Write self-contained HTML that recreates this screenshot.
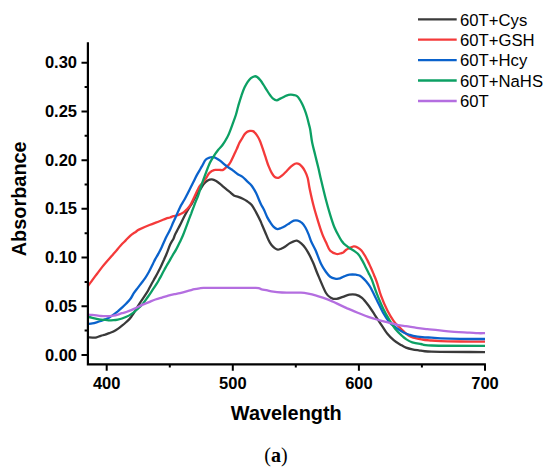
<!DOCTYPE html>
<html><head><meta charset="utf-8"><style>
html,body{margin:0;padding:0;background:#fff;}
body{width:550px;height:472px;overflow:hidden;position:relative;}
svg{position:absolute;left:0;top:0;}
.tk{font-family:"Liberation Sans",sans-serif;font-weight:bold;font-size:16.5px;fill:#000;}
.ax{font-family:"Liberation Sans",sans-serif;font-weight:bold;font-size:19.9px;fill:#000;}
.lg{font-family:"Liberation Sans",sans-serif;font-size:16.7px;fill:#000;}
.cap{font-family:"Liberation Serif",serif;font-size:20px;fill:#000;}
</style></head><body>
<svg width="550" height="472" viewBox="0 0 550 472">
<path d="M88.0,337.4 C88.7,337.4 91.0,337.6 92.4,337.6 C93.8,337.6 95.2,337.7 96.6,337.4 C98.0,337.1 99.4,336.2 100.8,335.8 C102.2,335.4 103.7,335.1 105.1,334.7 C106.5,334.2 107.9,333.6 109.3,333.1 C110.7,332.6 112.1,332.2 113.5,331.5 C114.9,330.8 116.4,329.9 117.8,328.9 C119.2,327.9 120.6,326.8 122.0,325.7 C123.4,324.6 124.9,323.3 126.3,322.0 C127.7,320.7 129.0,319.8 130.5,317.8 C132.0,315.9 134.1,312.5 135.5,310.3 C136.9,308.1 137.7,306.5 138.9,304.6 C140.1,302.7 141.4,300.8 142.7,298.9 C144.0,297.0 145.4,294.9 146.5,293.2 C147.6,291.5 148.2,290.3 149.0,288.8 C149.8,287.3 150.6,285.7 151.4,284.2 C152.2,282.7 153.1,281.3 153.9,279.8 C154.7,278.3 155.6,276.9 156.4,275.3 C157.2,273.7 158.2,272.0 159.0,270.3 C159.8,268.6 160.7,267.0 161.5,265.2 C162.3,263.4 163.2,261.4 164.1,259.5 C164.9,257.6 165.6,256.3 166.6,253.8 C167.6,251.3 169.1,246.9 170.3,244.3 C171.5,241.7 172.8,240.1 173.6,238.4 C174.4,236.8 174.3,236.1 175.1,234.4 C175.9,232.7 177.4,230.3 178.5,228.1 C179.6,225.9 180.8,223.6 181.9,221.3 C183.0,219.0 184.2,216.6 185.3,214.5 C186.4,212.4 187.5,210.4 188.6,208.6 C189.7,206.8 190.9,205.5 192.0,203.5 C193.1,201.5 194.4,198.6 195.4,196.7 C196.4,194.8 197.2,193.2 198.0,192.0 C198.8,190.8 199.4,190.8 200.3,189.5 C201.2,188.2 202.3,185.7 203.5,184.2 C204.7,182.7 206.3,181.3 207.7,180.5 C209.1,179.7 210.5,179.3 211.9,179.4 C213.3,179.5 214.8,180.2 216.2,181.0 C217.6,181.8 219.0,183.0 220.4,184.2 C221.8,185.3 223.2,186.7 224.7,187.9 C226.2,189.2 227.9,190.4 229.4,191.7 C230.9,192.9 232.4,194.5 233.9,195.4 C235.4,196.3 236.8,196.3 238.3,196.9 C239.8,197.5 241.3,198.1 242.8,198.8 C244.3,199.5 245.7,200.3 247.2,201.3 C248.7,202.3 250.2,203.2 251.7,205.0 C253.2,206.8 254.6,209.7 256.1,212.4 C257.6,215.1 259.6,219.2 260.6,221.3 C261.6,223.4 261.2,223.0 262.0,224.8 C262.8,226.6 264.1,229.7 265.2,232.2 C266.3,234.7 267.3,237.6 268.4,239.7 C269.4,241.8 270.4,243.6 271.5,245.0 C272.6,246.4 273.6,247.3 274.7,248.1 C275.8,248.9 276.8,249.6 277.9,249.7 C279.0,249.8 279.9,249.2 281.1,248.7 C282.3,248.2 283.9,247.4 285.3,246.5 C286.7,245.6 288.1,244.3 289.5,243.4 C290.9,242.5 292.6,241.8 293.8,241.3 C295.1,240.9 295.8,240.3 297.0,240.7 C298.2,241.0 299.8,242.2 301.2,243.4 C302.6,244.6 304.2,246.4 305.4,248.1 C306.6,249.8 307.6,251.6 308.6,253.4 C309.6,255.2 310.5,256.9 311.3,258.7 C312.1,260.5 312.6,261.3 313.7,264.0 C314.8,266.7 315.9,270.2 318.0,275.0 C320.1,279.8 323.8,289.2 326.0,293.0 C328.2,296.8 329.5,296.9 331.3,297.9 C333.1,298.9 334.7,299.1 336.6,298.9 C338.5,298.7 340.8,297.5 342.9,296.8 C345.0,296.1 347.2,295.1 349.3,294.7 C351.4,294.3 353.5,294.2 355.6,294.7 C357.7,295.2 359.9,296.1 362.0,297.9 C364.1,299.7 366.2,302.5 368.3,305.3 C370.4,308.1 372.6,311.6 374.7,314.8 C376.8,318.0 378.9,321.1 381.0,324.3 C383.1,327.5 385.3,331.2 387.4,333.8 C389.5,336.4 391.6,338.4 393.7,340.2 C395.8,342.0 398.1,343.2 400.1,344.4 C402.2,345.6 404.0,346.8 406.0,347.6 C408.0,348.4 410.2,348.9 412.3,349.3 C414.4,349.8 415.5,349.9 418.7,350.3 C421.9,350.7 420.3,351.4 431.4,351.7 C442.4,352.0 476.1,352.0 485.0,352.1" fill="none" stroke="#3a3a3a" stroke-width="2.3" stroke-linejoin="round" stroke-linecap="butt"/>
<path d="M88.0,286.0 C88.7,285.0 90.8,282.2 92.3,280.1 C93.8,278.1 95.5,275.8 97.1,273.7 C98.7,271.6 100.3,269.4 101.9,267.4 C103.5,265.4 105.0,263.6 106.6,261.8 C108.2,260.0 109.8,258.2 111.4,256.3 C113.0,254.5 114.6,252.5 116.2,250.7 C117.8,248.8 119.3,246.9 120.9,245.2 C122.5,243.5 124.1,242.0 125.7,240.4 C127.3,238.8 128.7,237.1 130.4,235.6 C132.1,234.1 134.6,232.7 136.0,231.7 C137.4,230.7 136.7,230.7 138.9,229.6 C141.2,228.5 146.0,226.4 149.5,225.0 C153.0,223.6 157.2,222.1 160.0,221.0 C162.8,219.9 164.3,219.2 166.0,218.6 C167.7,218.0 168.8,217.9 170.0,217.5 C171.2,217.1 172.3,216.5 173.4,216.2 C174.5,215.9 175.7,215.8 176.8,215.5 C177.9,215.2 179.1,214.6 180.2,214.1 C181.3,213.6 182.5,213.2 183.6,212.4 C184.7,211.6 185.8,210.6 186.9,209.4 C188.0,208.2 189.3,206.8 190.3,205.2 C191.3,203.6 192.0,201.8 192.9,199.9 C193.8,198.0 195.0,195.4 195.8,193.7 C196.6,192.0 197.1,190.9 197.7,189.8 C198.3,188.7 198.6,187.9 199.2,186.9 C199.8,185.9 200.8,184.8 201.5,184.0 C202.2,183.2 202.9,182.6 203.5,181.8 C204.1,181.1 204.7,180.3 205.2,179.5 C205.7,178.7 206.1,178.2 206.7,177.2 C207.3,176.2 208.1,174.5 208.9,173.5 C209.7,172.5 210.7,171.7 211.5,171.2 C212.3,170.7 212.9,170.5 213.5,170.3 C214.1,170.1 214.1,170.0 215.1,169.9 C216.1,169.8 218.1,169.9 219.4,169.9 C220.7,169.9 221.9,170.4 223.1,169.9 C224.3,169.4 225.7,167.8 226.8,166.7 C228.0,165.5 228.8,165.1 230.0,163.0 C231.2,160.9 233.1,156.8 234.2,154.4 C235.3,152.1 236.0,150.8 236.8,148.9 C237.7,147.0 238.5,144.7 239.3,143.0 C240.2,141.3 241.1,140.1 241.9,138.7 C242.8,137.3 243.6,135.6 244.4,134.5 C245.2,133.4 246.0,132.6 246.9,132.0 C247.8,131.4 248.9,131.1 249.9,130.9 C250.9,130.8 252.0,130.7 252.9,131.1 C253.8,131.5 254.6,132.2 255.4,133.2 C256.2,134.2 257.2,135.7 258.0,137.0 C258.8,138.3 259.4,139.6 260.1,141.3 C260.8,143.0 261.5,145.2 262.2,147.2 C262.9,149.2 263.8,151.8 264.3,153.3 C264.8,154.8 264.6,154.3 265.3,156.4 C266.0,158.5 267.4,163.2 268.5,165.9 C269.6,168.6 270.6,171.0 271.7,172.8 C272.8,174.7 273.7,176.2 274.8,177.0 C275.9,177.8 277.3,178.1 278.5,177.8 C279.7,177.5 280.9,176.5 282.2,175.4 C283.5,174.3 285.1,172.6 286.5,171.2 C287.9,169.8 289.3,168.1 290.7,166.9 C292.1,165.7 293.7,164.3 295.0,163.8 C296.3,163.3 297.6,163.4 298.7,163.8 C299.8,164.2 300.8,165.2 301.8,166.4 C302.9,167.6 304.0,169.3 305.0,171.2 C306.0,173.1 306.9,175.0 307.7,178.0 C308.5,181.0 308.7,184.3 309.7,189.0 C310.7,193.7 312.3,201.0 313.7,206.3 C315.1,211.7 316.6,216.5 318.0,221.1 C319.4,225.7 320.9,230.3 322.2,233.8 C323.5,237.3 324.7,239.5 326.0,242.3 C327.3,245.1 328.4,248.9 330.2,250.8 C332.0,252.8 335.0,253.6 336.6,254.0 C338.2,254.4 338.9,253.8 340.0,253.5 C341.1,253.2 342.1,253.1 343.2,252.5 C344.2,251.9 345.2,250.5 346.3,249.8 C347.4,249.1 348.2,248.8 349.5,248.2 C350.8,247.6 352.5,246.5 353.8,246.4 C355.1,246.3 356.3,246.8 357.5,247.5 C358.7,248.2 360.1,249.1 361.2,250.3 C362.3,251.5 363.2,252.9 364.3,254.6 C365.4,256.3 366.4,258.3 367.5,260.4 C368.6,262.5 369.6,264.9 370.7,267.3 C371.8,269.7 372.8,272.1 373.9,274.7 C374.9,277.2 375.8,279.1 377.0,282.6 C378.2,286.1 379.3,291.0 381.0,295.7 C382.7,300.4 385.3,306.4 387.4,310.6 C389.5,314.8 391.7,318.3 393.7,321.1 C395.7,323.9 397.8,325.5 399.5,327.3 C401.2,329.1 402.6,330.4 404.1,331.8 C405.6,333.2 407.1,334.5 408.6,335.5 C410.1,336.5 410.9,337.0 413.2,337.7 C415.5,338.4 419.3,339.0 422.3,339.5 C425.3,340.0 428.4,340.2 431.4,340.5 C434.4,340.8 435.7,340.9 440.5,341.1 C445.3,341.3 452.6,341.4 460.0,341.5 C467.4,341.6 480.8,341.7 485.0,341.7" fill="none" stroke="#f43a3a" stroke-width="2.3" stroke-linejoin="round" stroke-linecap="butt"/>
<path d="M88.0,324.0 C88.7,323.9 91.0,323.7 92.4,323.4 C93.8,323.1 95.2,322.7 96.6,322.3 C98.0,321.9 99.4,321.5 100.8,321.0 C102.2,320.5 103.7,320.0 105.1,319.4 C106.5,318.8 107.9,318.3 109.3,317.5 C110.7,316.7 112.1,315.6 113.5,314.6 C114.9,313.6 116.4,312.5 117.8,311.4 C119.2,310.2 120.6,309.0 122.0,307.7 C123.4,306.4 124.9,305.0 126.3,303.5 C127.7,302.0 129.2,300.4 130.5,298.7 C131.8,297.0 132.6,295.0 133.8,293.2 C135.0,291.4 136.3,289.8 137.6,288.1 C138.9,286.4 140.2,284.7 141.5,283.0 C142.8,281.3 144.0,279.8 145.3,277.9 C146.6,276.0 147.8,273.8 149.1,271.5 C150.4,269.2 151.9,265.9 152.9,263.9 C153.9,261.9 154.1,261.3 155.0,259.6 C155.9,257.9 157.3,255.7 158.4,253.6 C159.5,251.5 160.7,249.3 161.8,246.9 C162.9,244.5 164.3,241.2 165.2,239.2 C166.1,237.2 166.4,236.7 167.3,235.0 C168.2,233.3 169.4,231.1 170.4,228.9 C171.4,226.8 172.3,224.5 173.4,222.1 C174.5,219.7 175.7,217.0 176.8,214.5 C177.9,212.0 179.0,209.3 180.2,206.9 C181.4,204.5 183.1,202.0 184.2,200.0 C185.3,198.0 186.0,196.8 187.0,194.8 C188.0,192.8 189.3,190.1 190.4,188.0 C191.5,185.9 192.4,184.1 193.4,182.1 C194.4,180.1 195.3,178.0 196.3,176.1 C197.3,174.2 198.3,172.6 199.3,170.9 C200.3,169.2 201.2,167.5 202.3,165.7 C203.4,163.8 204.3,161.2 205.6,159.8 C206.8,158.4 208.6,157.9 209.8,157.5 C211.0,157.1 211.9,157.1 213.0,157.2 C214.1,157.3 215.0,157.6 216.2,158.2 C217.4,158.8 219.0,159.8 220.4,160.9 C221.8,162.0 223.3,163.4 224.7,164.6 C226.1,165.8 227.5,166.8 228.9,167.8 C230.3,168.8 231.6,169.5 233.1,170.6 C234.6,171.7 236.3,173.2 237.8,174.2 C239.3,175.2 240.6,175.4 242.2,176.6 C243.8,177.8 245.6,179.8 247.2,181.3 C248.8,182.8 250.2,183.7 251.7,185.7 C253.2,187.7 254.6,190.1 256.1,193.1 C257.6,196.1 259.3,200.7 260.6,203.5 C261.9,206.3 263.0,207.7 264.1,210.0 C265.2,212.3 266.2,215.3 267.3,217.4 C268.4,219.5 269.4,221.1 270.5,222.7 C271.6,224.3 272.6,225.8 273.7,226.9 C274.8,228.0 276.2,228.9 277.4,229.1 C278.6,229.3 279.8,228.5 281.1,228.0 C282.4,227.5 283.9,226.7 285.3,225.9 C286.7,225.1 288.1,224.1 289.5,223.2 C290.9,222.3 292.4,221.0 293.8,220.6 C295.2,220.2 296.7,220.2 298.0,220.6 C299.3,220.9 300.5,221.5 301.7,222.7 C302.9,223.8 304.2,225.6 305.4,227.5 C306.5,229.4 307.6,232.0 308.6,234.4 C309.6,236.8 310.1,239.1 311.3,241.8 C312.5,244.5 314.2,247.1 315.8,250.8 C317.4,254.5 319.4,260.5 321.1,264.0 C322.8,267.5 324.5,269.9 326.0,272.0 C327.5,274.1 328.7,275.6 330.2,276.7 C331.7,277.8 333.4,278.3 335.0,278.6 C336.6,278.9 338.5,278.8 340.0,278.4 C341.5,278.0 342.6,276.9 344.2,276.3 C345.8,275.7 347.6,275.0 349.5,274.7 C351.4,274.4 354.1,274.5 355.9,274.7 C357.7,274.9 358.7,274.9 360.1,275.7 C361.5,276.5 363.0,278.1 364.3,279.4 C365.6,280.7 367.0,282.4 368.0,283.7 C369.0,285.0 368.9,284.6 370.4,287.3 C371.9,290.0 374.7,295.8 376.8,300.0 C378.9,304.2 381.0,309.0 383.1,312.7 C385.2,316.4 387.5,319.8 389.5,322.2 C391.5,324.6 393.3,325.5 395.0,326.8 C396.7,328.1 398.0,329.0 399.5,330.0 C401.0,331.0 402.6,331.9 404.1,332.7 C405.6,333.4 407.1,334.0 408.6,334.5 C410.1,335.0 410.9,335.5 413.2,335.9 C415.5,336.3 419.3,336.8 422.3,337.1 C425.3,337.4 428.4,337.5 431.4,337.7 C434.4,337.9 435.7,338.2 440.5,338.4 C445.3,338.6 452.6,338.8 460.0,338.9 C467.4,339.0 480.8,339.0 485.0,339.0" fill="none" stroke="#0a62cc" stroke-width="2.3" stroke-linejoin="round" stroke-linecap="butt"/>
<path d="M88.0,317.0 C88.7,317.1 91.0,317.5 92.4,317.8 C93.8,318.1 95.2,318.5 96.6,318.8 C98.0,319.1 99.4,319.4 100.8,319.6 C102.2,319.8 103.7,319.8 105.1,319.9 C106.5,320.0 107.9,320.3 109.3,320.4 C110.7,320.4 112.1,320.3 113.5,320.2 C114.9,320.1 116.4,319.9 117.8,319.6 C119.2,319.3 120.6,319.0 122.0,318.5 C123.4,318.0 124.9,317.3 126.3,316.7 C127.7,316.1 128.8,315.7 130.5,314.6 C132.2,313.5 134.5,311.8 136.5,310.0 C138.5,308.2 140.8,306.2 142.7,304.0 C144.6,301.8 146.1,299.4 147.8,297.0 C149.5,294.6 151.5,291.5 152.9,289.4 C154.3,287.3 155.4,285.8 156.4,284.2 C157.4,282.6 158.2,281.3 159.0,279.8 C159.8,278.3 160.7,276.9 161.5,275.3 C162.3,273.7 163.2,271.9 164.1,270.3 C164.9,268.7 165.8,267.3 166.6,265.8 C167.4,264.3 168.3,262.9 169.2,261.4 C170.0,259.9 170.9,258.2 171.7,256.9 C172.5,255.5 173.1,254.6 173.8,253.3 C174.6,252.1 175.2,251.2 176.2,249.4 C177.2,247.6 178.5,245.0 179.6,242.6 C180.7,240.2 181.9,237.8 183.0,235.2 C184.1,232.6 185.2,229.7 186.1,227.2 C187.0,224.7 187.8,222.7 188.6,220.4 C189.4,218.1 190.3,215.8 191.2,213.6 C192.0,211.3 192.8,209.2 193.7,206.9 C194.5,204.7 195.5,202.1 196.3,200.1 C197.1,198.1 197.6,197.5 198.4,195.0 C199.2,192.5 200.2,188.9 201.4,185.3 C202.6,181.7 204.2,177.3 205.6,173.6 C207.0,169.9 208.4,166.0 209.8,163.0 C211.2,160.0 212.7,157.8 214.1,155.6 C215.5,153.4 216.9,151.6 218.3,149.8 C219.7,148.0 221.0,147.1 222.5,145.0 C224.0,142.9 226.2,139.3 227.4,137.0 C228.7,134.7 229.2,133.2 230.0,131.1 C230.8,129.0 231.5,127.1 232.5,124.3 C233.5,121.5 235.1,117.5 236.0,114.5 C236.9,111.5 237.3,109.3 238.2,106.2 C239.1,103.1 240.3,98.9 241.4,95.8 C242.5,92.7 243.4,89.9 244.5,87.6 C245.6,85.3 246.6,83.4 247.7,81.8 C248.8,80.2 249.8,79.0 250.9,78.1 C252.1,77.2 253.6,76.5 254.6,76.3 C255.6,76.1 256.2,76.3 257.2,77.0 C258.2,77.7 259.3,78.9 260.4,80.2 C261.5,81.5 262.5,83.3 263.6,85.0 C264.7,86.7 265.7,88.5 266.8,90.2 C267.9,91.9 268.9,93.6 270.0,95.0 C271.1,96.4 272.0,97.8 273.1,98.7 C274.2,99.6 275.6,100.3 276.8,100.3 C278.0,100.3 279.2,99.1 280.3,98.6 C281.4,98.1 282.2,97.7 283.2,97.2 C284.2,96.7 285.2,96.0 286.4,95.6 C287.6,95.2 289.4,94.8 290.6,94.7 C291.8,94.6 292.7,94.9 293.8,95.1 C294.9,95.3 296.0,95.4 297.0,96.1 C298.0,96.8 298.7,98.0 299.6,99.3 C300.5,100.6 301.3,102.2 302.2,104.1 C303.1,105.9 304.1,108.3 304.9,110.4 C305.7,112.5 306.4,114.7 307.0,116.8 C307.6,118.9 308.1,121.0 308.6,123.1 C309.1,125.2 309.6,126.2 310.2,129.5 C310.8,132.8 311.3,138.4 312.2,142.7 C313.1,147.0 314.3,151.2 315.3,155.4 C316.3,159.6 317.4,164.0 318.4,168.1 C319.4,172.2 319.8,174.7 321.1,180.0 C322.4,185.3 324.5,194.2 326.0,200.0 C327.5,205.8 328.8,210.2 330.2,214.8 C331.6,219.4 332.9,223.6 334.5,227.5 C336.1,231.4 338.6,235.6 340.0,238.2 C341.4,240.8 342.1,241.7 343.2,242.9 C344.2,244.1 345.1,244.6 346.3,245.6 C347.5,246.6 349.2,247.8 350.6,248.8 C352.0,249.8 353.4,250.4 354.8,251.4 C356.2,252.4 357.8,253.6 359.0,255.1 C360.2,256.6 361.1,258.5 362.2,260.4 C363.3,262.3 364.3,264.6 365.4,266.7 C366.5,268.8 367.6,271.0 368.6,273.1 C369.7,275.2 370.3,276.0 371.7,279.4 C373.1,282.8 374.9,288.8 376.8,293.6 C378.7,298.4 381.0,304.0 383.1,308.4 C385.2,312.8 387.4,316.6 389.5,320.1 C391.6,323.6 393.7,327.0 395.8,329.6 C397.9,332.2 400.5,334.4 402.2,336.0 C403.9,337.6 404.3,338.1 406.0,339.1 C407.7,340.2 409.8,341.5 412.3,342.3 C414.8,343.1 417.6,343.5 420.8,344.0 C424.0,344.5 420.7,345.2 431.4,345.5 C442.1,345.8 476.1,345.8 485.0,345.8" fill="none" stroke="#0ca064" stroke-width="2.3" stroke-linejoin="round" stroke-linecap="butt"/>
<path d="M88.0,314.6 C88.7,314.7 91.0,314.8 92.4,314.9 C93.8,315.0 95.2,315.2 96.6,315.4 C98.0,315.6 99.4,315.9 100.8,316.0 C102.2,316.1 103.7,316.2 105.1,316.2 C106.5,316.2 107.9,316.3 109.3,316.2 C110.7,316.1 112.1,316.0 113.5,315.7 C114.9,315.4 116.4,315.0 117.8,314.6 C119.2,314.2 120.6,313.6 122.0,313.2 C123.4,312.8 124.9,312.5 126.3,312.0 C127.7,311.5 128.8,311.1 130.5,310.4 C132.2,309.7 134.4,308.8 136.4,307.8 C138.4,306.8 140.6,305.6 142.7,304.6 C144.8,303.7 147.0,303.0 149.1,302.1 C151.2,301.2 153.3,300.2 155.4,299.5 C157.5,298.8 159.7,298.2 161.8,297.6 C163.9,297.0 166.1,296.3 168.2,295.7 C170.3,295.1 172.5,294.6 174.5,294.2 C176.5,293.8 177.9,293.6 180.0,293.1 C182.1,292.6 184.9,291.8 187.3,291.1 C189.7,290.5 192.5,289.7 194.5,289.2 C196.5,288.7 198.0,288.5 199.5,288.3 C201.0,288.1 198.4,288.0 203.5,287.9 C208.6,287.8 221.3,287.9 230.0,287.9 C238.7,287.9 250.5,287.7 255.8,287.9 C261.1,288.1 259.7,288.9 261.6,289.3 C263.6,289.7 265.6,290.0 267.5,290.4 C269.4,290.8 270.9,291.2 273.3,291.6 C275.7,292.0 279.1,292.3 282.0,292.5 C284.9,292.7 287.6,292.6 290.7,292.6 C293.8,292.6 298.0,292.5 300.9,292.7 C303.8,292.9 305.8,293.2 308.2,293.6 C310.6,294.1 313.1,294.7 315.5,295.4 C317.9,296.1 320.3,296.9 322.7,297.7 C325.1,298.5 327.7,299.4 330.0,300.4 C332.3,301.3 333.7,302.1 336.6,303.4 C339.5,304.7 343.7,306.8 347.2,308.4 C350.7,309.9 354.2,311.3 357.7,312.7 C361.2,314.1 364.8,315.7 368.3,316.9 C371.8,318.1 375.4,319.1 378.9,320.1 C382.4,321.1 386.0,321.9 389.5,322.8 C393.0,323.7 397.4,324.8 400.1,325.4 C402.9,326.0 403.2,325.8 406.0,326.2 C408.8,326.6 413.1,327.4 416.6,327.9 C420.1,328.4 423.7,328.8 427.2,329.2 C430.7,329.6 434.2,329.8 437.7,330.2 C441.2,330.6 444.8,331.0 448.3,331.3 C451.8,331.6 455.4,331.9 458.9,332.1 C462.4,332.3 466.3,332.4 469.5,332.6 C472.7,332.8 475.4,333.1 478.0,333.2 C480.6,333.3 483.8,333.2 485.0,333.2" fill="none" stroke="#b46ee0" stroke-width="2.3" stroke-linejoin="round" stroke-linecap="butt"/>
<path d="M87.9,42.3 V365.3 M86.8,364.4 H485.9" fill="none" stroke="#000" stroke-width="2.2"/>
<path d="M81.5,354.9 H87.9 M81.5,306.2 H87.9 M81.5,257.5 H87.9 M81.5,208.8 H87.9 M81.5,160.2 H87.9 M81.5,111.5 H87.9 M81.5,62.8 H87.9 M84.6,330.6 H87.9 M84.6,281.9 H87.9 M84.6,233.2 H87.9 M84.6,184.5 H87.9 M84.6,135.8 H87.9 M84.6,87.1 H87.9 M106.7,364.4 V370.7 M232.8,364.4 V370.7 M358.9,364.4 V370.7 M485.0,364.4 V370.7 M169.8,364.4 V367.6 M295.8,364.4 V367.6 M421.9,364.4 V367.6" fill="none" stroke="#000" stroke-width="2"/>
<text x="77" y="360.5" text-anchor="end" class="tk">0.00</text>
<text x="77" y="311.8" text-anchor="end" class="tk">0.05</text>
<text x="77" y="263.1" text-anchor="end" class="tk">0.10</text>
<text x="77" y="214.4" text-anchor="end" class="tk">0.15</text>
<text x="77" y="165.8" text-anchor="end" class="tk">0.20</text>
<text x="77" y="117.1" text-anchor="end" class="tk">0.25</text>
<text x="77" y="68.4" text-anchor="end" class="tk">0.30</text>
<text x="106.7" y="388.6" text-anchor="middle" class="tk">400</text>
<text x="232.8" y="388.6" text-anchor="middle" class="tk">500</text>
<text x="358.9" y="388.6" text-anchor="middle" class="tk">600</text>
<text x="485.0" y="388.6" text-anchor="middle" class="tk">700</text>
<text x="286.3" y="419.8" text-anchor="middle" class="ax">Wavelength</text>
<text transform="translate(25.9,198.8) rotate(-90)" x="0" y="0" text-anchor="middle" class="ax">Absorbance</text>
<path d="M418,19.3 H456.7" stroke="#3a3a3a" stroke-width="2.3"/>
<text x="460" y="25.5" class="lg">60T+Cys</text>
<path d="M418,39.7 H456.7" stroke="#f43a3a" stroke-width="2.3"/>
<text x="460" y="45.9" class="lg">60T+GSH</text>
<path d="M418,60.1 H456.7" stroke="#0a62cc" stroke-width="2.3"/>
<text x="460" y="66.3" class="lg">60T+Hcy</text>
<path d="M418,80.5 H456.7" stroke="#0ca064" stroke-width="2.3"/>
<text x="460" y="86.7" class="lg">60T+NaHS</text>
<path d="M418,101.0 H456.7" stroke="#b46ee0" stroke-width="2.3"/>
<text x="460" y="107.2" class="lg">60T</text>
<text x="275.9" y="462" text-anchor="middle" class="cap">(<tspan font-weight="bold">a</tspan>)</text>
</svg>
</body></html>
